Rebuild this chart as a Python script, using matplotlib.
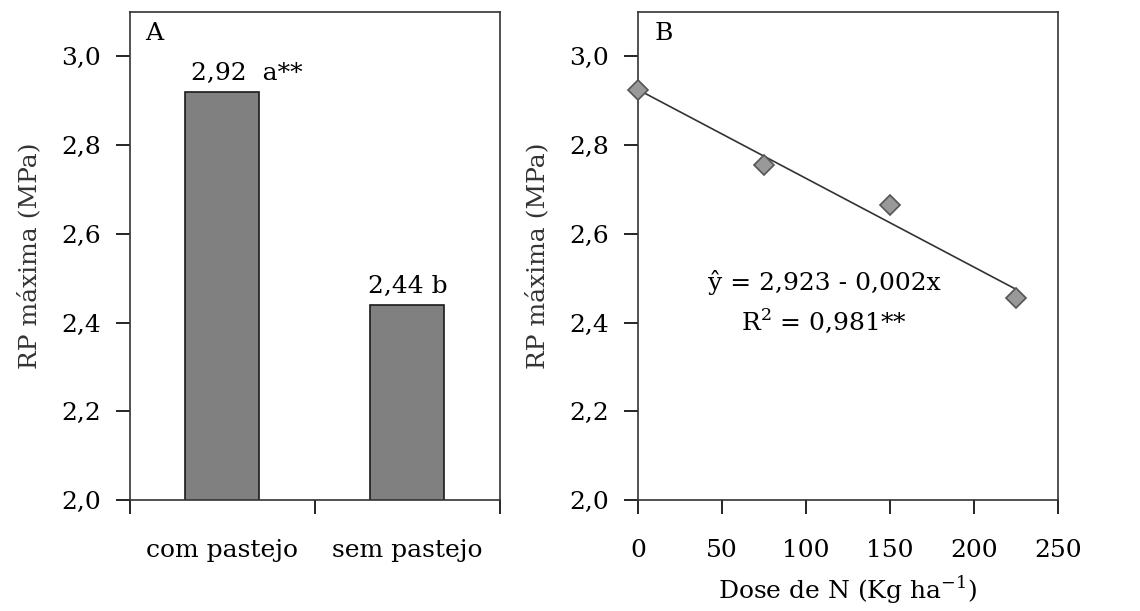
import numpy as np
import matplotlib
matplotlib.use("Agg")
import matplotlib.pyplot as plt
from matplotlib.ticker import FuncFormatter

# Painel A - pastejo
categorias = ["com pastejo", "sem pastejo"]
rp_pastejo = [2.92, 2.44]
rotulos_barras = ["2,92  a**", "2,44 b"]

# Painel B - doses de N
doses = [0, 75, 150, 225]
rp_doses = [2.925, 2.755, 2.665, 2.455]

plt.rcParams["font.family"] = "DejaVu Serif"
plt.rcParams["font.size"] = 18
plt.rcParams["axes.edgecolor"] = "#333333"
plt.rcParams["axes.linewidth"] = 1.2

virgula = FuncFormatter(lambda v, p: f"{v:.1f}".replace(".", ","))

fig = plt.figure(figsize=(11.4, 6.11), dpi=100)
ax1 = fig.add_axes([0.114, 0.1817, 0.3246, 0.7987])
ax2 = fig.add_axes([0.5596, 0.1817, 0.3684, 0.7987])

# --- A ---
pos = np.arange(len(categorias))
ax1.bar(pos, rp_pastejo, width=0.4, bottom=0, color="#808080",
        edgecolor="#1a1a1a", linewidth=1.2)
ax1.set_xlim(-0.5, 1.5)
ax1.set_ylim(2.0, 3.1)
ax1.set_xticks([-0.5, 0.5, 1.5])
ax1.set_xticklabels([])
ax1.set_xticks(pos, minor=True)
ax1.set_xticklabels(categorias, minor=True)
ax1.tick_params(axis="x", which="minor", length=0, pad=28)
ax1.tick_params(axis="x", which="major", length=10, direction="out", width=1.2)
for i, v in enumerate(rp_pastejo):
    ax1.text(pos[i] + (0.13 if i == 0 else 0), v + 0.015, rotulos_barras[i],
             ha="center", va="bottom")
ax1.text(0.04, 0.955, "A", transform=ax1.transAxes, ha="left", va="center")

# --- B ---
coef = np.polyfit(doses, rp_doses, 1)
xl = np.array([doses[0], doses[-1]])
ax2.plot(xl, np.polyval(coef, xl), color="#333333", linewidth=1.2)
ax2.plot(doses, rp_doses, linestyle="none", marker="D", markersize=10,
         markerfacecolor="#999999", markeredgecolor="#555555",
         markeredgewidth=1.2, clip_on=False, zorder=3)
ax2.set_xlim(0, 250)
ax2.set_ylim(2.0, 3.1)
ax2.set_xticks(range(0, 251, 50))
ax2.tick_params(axis="x", length=10, direction="out", width=1.2, pad=18)
ax2.set_xlabel("Dose de N (Kg ha$^{\\mathregular{-1}}$)", labelpad=9)
ax2.text(0.04, 0.955, "B", transform=ax2.transAxes, ha="left", va="center")
ax2.text(111, 2.49, "ŷ = 2,923 - 0,002x", ha="center", va="center")
ax2.text(111, 2.405, "R$^{\\mathregular{2}}$ = 0,981**", ha="center", va="center")

for ax in (ax1, ax2):
    ax.set_yticks(np.arange(2.0, 3.01, 0.2))
    ax.yaxis.set_major_formatter(virgula)
    ax.tick_params(axis="y", length=10, direction="out", width=1.2, pad=11)
    ax.set_ylabel("RP máxima (MPa)", color="#333333", labelpad=14)

fig.savefig("out.png", dpi=100)
